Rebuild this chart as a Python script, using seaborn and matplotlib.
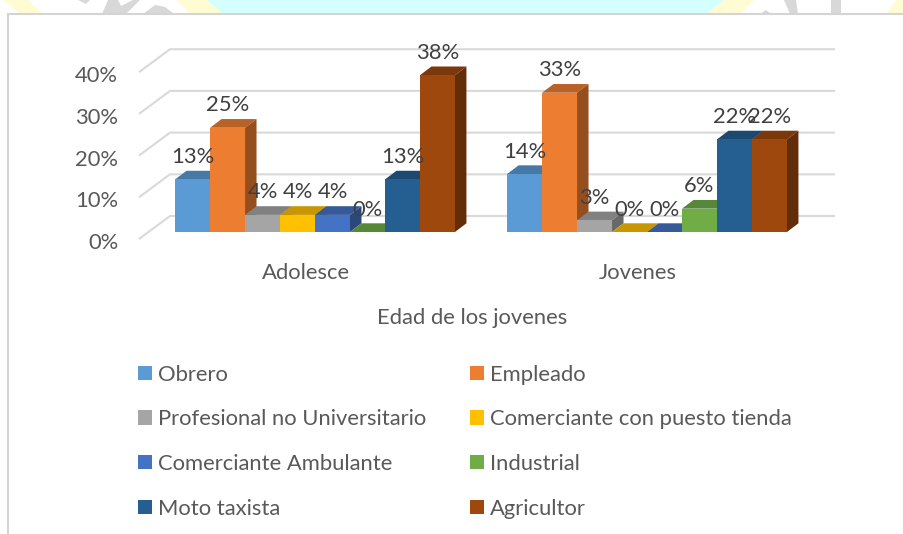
import matplotlib
matplotlib.use("Agg")
import matplotlib.pyplot as plt
from matplotlib.patches import Polygon, Patch, Rectangle
from matplotlib.transforms import ScaledTranslation
from matplotlib.colors import to_rgb
import pandas as pd
import seaborn as sns

groups = ["Adolesce", "Jovenes"]
occupations = ["Obrero", "Empleado", "Profesional no Universitario",
               "Comerciante con puesto tienda", "Comerciante Ambulante",
               "Industrial", "Moto taxista", "Agricultor"]
adolesce = [12.6, 25.0, 4.1, 4.1, 4.1, 0.0, 12.6, 37.6]
jovenes = [13.9, 33.4, 2.8, 0.0, 0.0, 5.6, 22.2, 22.2]
colors = ["#5B9BD5", "#ED7D31", "#A5A5A5", "#FFC000",
          "#4472C4", "#70AD47", "#255E91", "#9E480E"]
y_ticks = [0, 10, 20, 30, 40]

W, H = 904, 534
PX_PER_UNIT = 4.17
PX_PER_CAT = 332
BAR_DX, BAR_DY = 11.5, 8.7
WALL_DX, WALL_DY = 31, 23

sns.set_theme(style="white")
plt.rcParams["font.family"] = ["Lato", "DejaVu Sans"]
FS = 15.8

fig = plt.figure(figsize=(W / 100, H / 100), dpi=100, facecolor="white")
left, right, top, bottom = 139, 835, 49, 232
ax = fig.add_axes([left / W, 1 - bottom / H, (right - left) / W, (bottom - top) / H])
ax.patch.set_alpha(0)

df = pd.DataFrame({
    "grupo": groups * len(occupations),
    "ocupacion": [o for o in occupations for _ in groups],
    "valor": [v for pair in zip(adolesce, jovenes) for v in pair],
})
sns.barplot(data=df, x="grupo", y="valor", hue="ocupacion", order=groups,
            hue_order=occupations, palette=colors, saturation=1, width=0.843,
            gap=0, ax=ax, legend=False, linewidth=0, errorbar=None)

ax.set_xlim((left - 315) / PX_PER_CAT, (right - 315) / PX_PER_CAT)
ax.set_ylim(0, (bottom - top) / PX_PER_UNIT)
sns.despine(ax=ax, left=True, bottom=True)
ax.grid(False)

dx_bar = BAR_DX / PX_PER_CAT
dy_bar = BAR_DY / PX_PER_UNIT
dx_wall = WALL_DX / PX_PER_CAT
dy_wall = WALL_DY / PX_PER_UNIT
x0 = ax.get_xlim()[0]
x1 = ax.get_xlim()[1]

GRID = "#D9D9D9"
for t in y_ticks:
    ax.plot([x0, x0 + dx_wall, x1], [t - 1.68, t - 1.68 + dy_wall, t - 1.68 + dy_wall],
            color=GRID, lw=1.5, clip_on=False, zorder=1, solid_capstyle="butt")


def shade(c, f):
    return tuple(v * f for v in to_rgb(c))


bars = sorted(ax.patches, key=lambda b: b.get_x())
for i, b in enumerate(bars):
    c = b.get_facecolor()[:3]
    xa, w, h = b.get_x(), b.get_width(), b.get_height()
    z = 3 + i
    b.set_zorder(z + 0.2)
    b.set_clip_on(False)
    ax.add_patch(Polygon([(xa, h), (xa + w, h), (xa + w + dx_bar, h + dy_bar), (xa + dx_bar, h + dy_bar)],
                         closed=True, fc=shade(c, 0.78), ec="none", zorder=z, clip_on=False))
    ax.add_patch(Polygon([(xa + w, 0), (xa + w + dx_bar, dy_bar), (xa + w + dx_bar, h + dy_bar), (xa + w, h)],
                         closed=True, fc=shade(c, 0.63), ec="none", zorder=z + 0.1, clip_on=False))
    ax.annotate(f"{h:.0f}%", (xa + w / 2, h), xytext=(0, 22.5 * 0.72), textcoords="offset points",
                ha="center", va="center", fontsize=FS, color="#404040", zorder=40,
                annotation_clip=False)

ax.set_yticks(y_ticks, [f"{t}%" for t in y_ticks])
ax.tick_params(axis="y", length=0, pad=15, labelsize=FS, labelcolor="#595959")
ax.tick_params(axis="x", length=0, pad=22.4, labelsize=FS, labelcolor="#595959")
shift_y = ScaledTranslation(0, -9 / 100, fig.dpi_scale_trans)
shift_x = ScaledTranslation(-9 / 100, 0, fig.dpi_scale_trans)
for lab in ax.get_yticklabels():
    lab.set_transform(lab.get_transform() + shift_y)
for lab in ax.get_xticklabels():
    lab.set_transform(lab.get_transform() + shift_x)
ax.set_ylabel("")
ax.set_xlabel("Edad de los jovenes", fontsize=FS, color="#595959")
ax.xaxis.set_label_coords((472 - left) / (right - left), -(318 - bottom) / (bottom - top), transform=ax.transAxes)
ax.xaxis.label.set_va("center")

order = [0, 2, 4, 6, 1, 3, 5, 7]
handles = [Patch(fc=colors[i], ec="none", label=occupations[i]) for i in order]
leg = fig.legend(handles=handles, ncol=2, loc="upper left", bbox_to_anchor=(131 / W, 1 - 358 / H),
                 frameon=False, fontsize=FS, labelcolor="#595959", handlelength=0.64,
                 handleheight=0.64, handletextpad=0.28, labelspacing=1.125, columnspacing=2.0,
                 borderpad=0.3, borderaxespad=0)


# page background showing above the chart frame (decoration only)
def strip(points, color):
    fig.add_artist(Polygon([(px / W, 1 - py / H) for px, py in points], closed=True,
                           transform=fig.transFigure, fc=color, ec="none", zorder=-3))


CYAN, YELLOW, MARK = "#D5FFFF", "#FFFBD2", "#D8D8D8"
fig.add_artist(Rectangle((0, 1 - 14 / H), 1, 14 / H, transform=fig.transFigure, fc="white", ec="none", zorder=-5))
strip([(3, 0), (28, 0), (43, 14), (20, 14)], YELLOW)
strip([(177, 0), (207, 0), (223, 14), (190, 14)], YELLOW)
strip([(207, 0), (724, 0), (706, 14), (223, 14)], CYAN)
strip([(724, 0), (754, 0), (740, 14), (706, 14)], YELLOW)
strip([(896, 0), (904, 0), (904, 14), (887, 14)], YELLOW)
strip([(78, 0), (90, 0), (86, 4)], MARK)
strip([(108, 0), (118, 0), (121, 6), (133, 0), (140, 0), (126, 14), (102, 14)], MARK)
strip([(143, 14), (155, 5), (165, 7), (174, 14)], MARK)
strip([(760, 14), (766, 10), (771, 14)], MARK)
strip([(784, 0), (796, 0), (798, 14), (790, 14)], MARK)
strip([(831, 0), (841, 0), (841, 14), (831, 14)], MARK)

# chart frame
fig.add_artist(Rectangle((8 / W, -0.02), 1, 1 - 14 / H + 0.02, transform=fig.transFigure,
                         fc="white", ec="#D4D4D4", lw=1.5, zorder=-2))

fig.savefig("out.png", dpi=100, facecolor="white")
